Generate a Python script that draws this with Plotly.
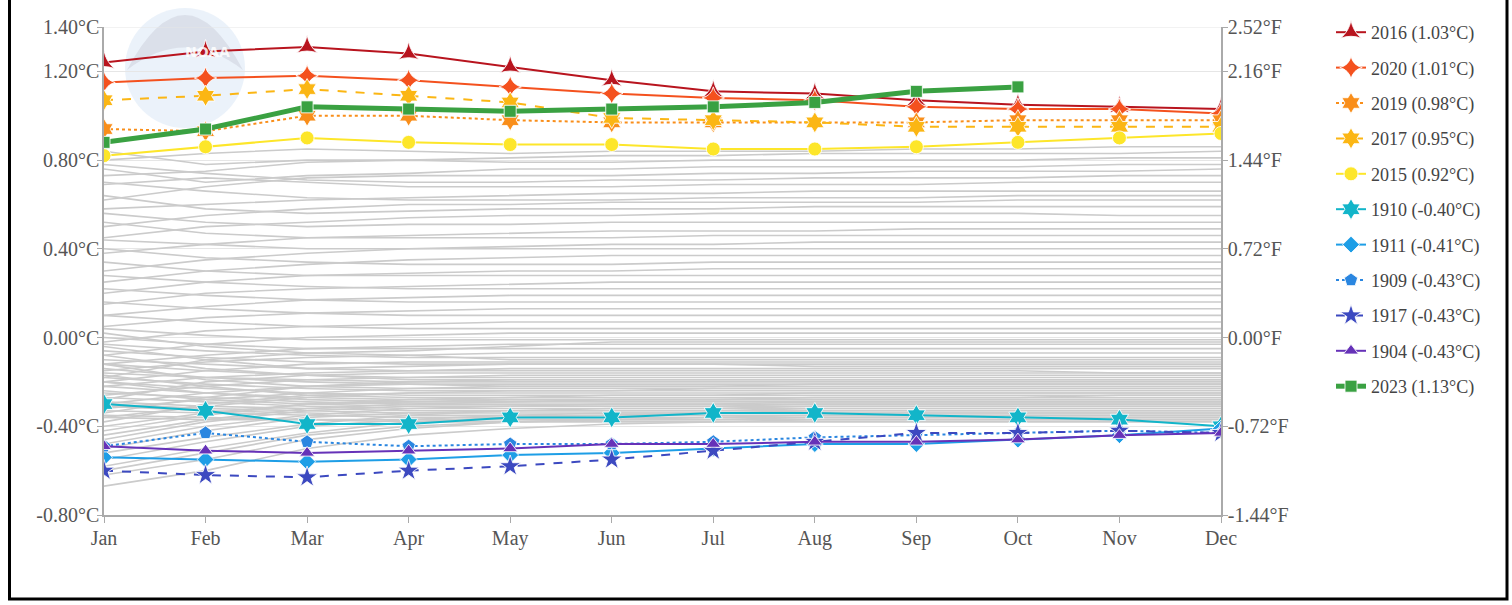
import plotly.graph_objects as go

months = ["Jan", "Feb", "Mar", "Apr", "May", "Jun", "Jul", "Aug", "Sep", "Oct", "Nov", "Dec"]

# Highlighted years: year-to-date global temperature anomaly (°C)
y2016 = [1.24, 1.29, 1.31, 1.28, 1.22, 1.16, 1.11, 1.10, 1.07, 1.05, 1.04, 1.03]
y2020 = [1.15, 1.17, 1.18, 1.16, 1.13, 1.10, 1.08, 1.07, 1.04, 1.03, 1.03, 1.01]
y2019 = [0.94, 0.93, 1.00, 1.00, 0.98, 0.97, 0.97, 0.97, 0.97, 0.98, 0.98, 0.98]
y2017 = [1.07, 1.09, 1.12, 1.09, 1.06, 0.99, 0.98, 0.97, 0.95, 0.95, 0.95, 0.95]
y2015 = [0.82, 0.86, 0.90, 0.88, 0.87, 0.87, 0.85, 0.85, 0.86, 0.88, 0.90, 0.92]
y1910 = [-0.30, -0.33, -0.39, -0.39, -0.36, -0.36, -0.34, -0.34, -0.35, -0.36, -0.37, -0.40]
y1911 = [-0.54, -0.55, -0.56, -0.55, -0.53, -0.52, -0.50, -0.48, -0.48, -0.46, -0.44, -0.41]
y1909 = [-0.49, -0.43, -0.47, -0.49, -0.48, -0.48, -0.47, -0.45, -0.44, -0.43, -0.42, -0.43]
y1917 = [-0.60, -0.62, -0.63, -0.60, -0.58, -0.55, -0.51, -0.47, -0.43, -0.43, -0.42, -0.43]
y1904 = [-0.49, -0.51, -0.52, -0.51, -0.50, -0.48, -0.48, -0.47, -0.47, -0.46, -0.44, -0.43]
y2023 = [0.88, 0.94, 1.04, 1.03, 1.02, 1.03, 1.04, 1.06, 1.11, 1.13, None, None]

legend_years = ["2016", "2020", "2019", "2017", "2015", "1910", "1911", "1909", "1917", "1904", "2023"]
legend_annual = ["1.03", "1.01", "0.98", "0.95", "0.92", "-0.40", "-0.41", "-0.43", "-0.43", "-0.43", "1.13"]

# All other years (grey background lines)
background_years = [
    [0.80, 0.83, 0.85, 0.84, 0.83, 0.84, 0.84, 0.84, 0.85, 0.85, 0.86, 0.86],
    [0.84, 0.78, 0.80, 0.80, 0.81, 0.82, 0.82, 0.83, 0.83, 0.83, 0.83, 0.84],
    [0.73, 0.75, 0.79, 0.80, 0.79, 0.79, 0.80, 0.80, 0.80, 0.80, 0.81, 0.81],
    [0.76, 0.70, 0.73, 0.74, 0.76, 0.76, 0.77, 0.77, 0.77, 0.77, 0.78, 0.78],
    [0.62, 0.68, 0.72, 0.73, 0.73, 0.73, 0.74, 0.74, 0.75, 0.75, 0.75, 0.76],
    [0.78, 0.74, 0.71, 0.70, 0.70, 0.71, 0.71, 0.72, 0.72, 0.72, 0.73, 0.73],
    [0.69, 0.72, 0.70, 0.68, 0.68, 0.68, 0.69, 0.69, 0.69, 0.70, 0.70, 0.70],
    [0.58, 0.60, 0.62, 0.63, 0.64, 0.65, 0.65, 0.66, 0.66, 0.66, 0.66, 0.66],
    [0.70, 0.66, 0.63, 0.62, 0.62, 0.62, 0.63, 0.63, 0.63, 0.64, 0.64, 0.64],
    [0.50, 0.55, 0.58, 0.60, 0.60, 0.61, 0.61, 0.61, 0.61, 0.62, 0.62, 0.62],
    [0.64, 0.58, 0.56, 0.57, 0.58, 0.58, 0.58, 0.59, 0.59, 0.59, 0.59, 0.59],
    [0.45, 0.50, 0.52, 0.54, 0.55, 0.55, 0.56, 0.56, 0.56, 0.56, 0.55, 0.55],
    [0.56, 0.52, 0.50, 0.51, 0.51, 0.52, 0.52, 0.52, 0.52, 0.52, 0.52, 0.52],
    [0.38, 0.42, 0.45, 0.46, 0.47, 0.48, 0.48, 0.48, 0.49, 0.49, 0.49, 0.49],
    [0.52, 0.47, 0.45, 0.45, 0.45, 0.45, 0.46, 0.46, 0.46, 0.46, 0.46, 0.46],
    [0.30, 0.35, 0.38, 0.40, 0.41, 0.42, 0.42, 0.43, 0.43, 0.43, 0.43, 0.43],
    [0.44, 0.42, 0.40, 0.40, 0.40, 0.40, 0.40, 0.40, 0.40, 0.40, 0.40, 0.40],
    [0.25, 0.30, 0.33, 0.35, 0.36, 0.37, 0.37, 0.37, 0.37, 0.37, 0.37, 0.37],
    [0.40, 0.36, 0.34, 0.33, 0.33, 0.33, 0.34, 0.34, 0.34, 0.34, 0.34, 0.34],
    [0.20, 0.25, 0.28, 0.29, 0.30, 0.30, 0.31, 0.31, 0.31, 0.31, 0.31, 0.31],
    [0.34, 0.30, 0.28, 0.28, 0.28, 0.28, 0.28, 0.28, 0.28, 0.28, 0.28, 0.28],
    [0.15, 0.20, 0.22, 0.23, 0.24, 0.25, 0.25, 0.25, 0.25, 0.25, 0.25, 0.25],
    [0.28, 0.25, 0.23, 0.22, 0.22, 0.22, 0.22, 0.22, 0.22, 0.22, 0.22, 0.22],
    [0.10, 0.14, 0.17, 0.18, 0.19, 0.19, 0.19, 0.19, 0.19, 0.19, 0.19, 0.19],
    [0.22, 0.19, 0.17, 0.16, 0.16, 0.16, 0.16, 0.16, 0.16, 0.16, 0.16, 0.16],
    [0.05, 0.09, 0.11, 0.12, 0.13, 0.13, 0.13, 0.13, 0.13, 0.13, 0.13, 0.13],
    [0.16, 0.13, 0.11, 0.10, 0.10, 0.10, 0.10, 0.10, 0.10, 0.10, 0.10, 0.10],
    [-0.02, 0.03, 0.05, 0.06, 0.07, 0.07, 0.07, 0.07, 0.07, 0.07, 0.07, 0.07],
    [0.10, 0.07, 0.05, 0.04, 0.04, 0.04, 0.04, 0.04, 0.04, 0.04, 0.04, 0.04],
    [-0.08, -0.03, 0.00, 0.01, 0.02, 0.02, 0.02, 0.02, 0.02, 0.02, 0.02, 0.02],
    [0.04, 0.01, -0.01, -0.01, -0.01, -0.01, -0.01, -0.01, -0.01, -0.01, -0.01, -0.01],
    [-0.12, -0.08, -0.05, -0.04, -0.03, -0.03, -0.03, -0.03, -0.03, -0.03, -0.03, -0.03],
    [0.00, -0.03, -0.05, -0.05, -0.05, -0.05, -0.05, -0.05, -0.05, -0.05, -0.05, -0.05],
    [-0.15, -0.11, -0.09, -0.08, -0.07, -0.07, -0.07, -0.07, -0.07, -0.07, -0.07, -0.07],
    [-0.03, -0.06, -0.08, -0.09, -0.09, -0.09, -0.09, -0.09, -0.09, -0.09, -0.09, -0.09],
    [-0.20, -0.15, -0.12, -0.11, -0.11, -0.11, -0.11, -0.11, -0.11, -0.11, -0.11, -0.11],
    [-0.06, -0.09, -0.11, -0.12, -0.12, -0.12, -0.12, -0.13, -0.13, -0.13, -0.13, -0.13],
    [-0.22, -0.18, -0.16, -0.15, -0.14, -0.14, -0.14, -0.14, -0.14, -0.14, -0.14, -0.14],
    [-0.10, -0.12, -0.14, -0.15, -0.15, -0.15, -0.15, -0.15, -0.15, -0.15, -0.16, -0.16],
    [-0.26, -0.22, -0.19, -0.18, -0.17, -0.17, -0.17, -0.17, -0.17, -0.17, -0.17, -0.17],
    [-0.12, -0.15, -0.17, -0.18, -0.18, -0.18, -0.18, -0.18, -0.18, -0.18, -0.18, -0.18],
    [-0.30, -0.25, -0.22, -0.20, -0.19, -0.19, -0.19, -0.19, -0.19, -0.19, -0.19, -0.19],
    [-0.16, -0.18, -0.19, -0.20, -0.20, -0.20, -0.20, -0.20, -0.20, -0.20, -0.20, -0.20],
    [-0.32, -0.28, -0.25, -0.23, -0.22, -0.22, -0.22, -0.21, -0.21, -0.21, -0.21, -0.21],
    [-0.14, -0.18, -0.20, -0.21, -0.22, -0.22, -0.22, -0.22, -0.22, -0.22, -0.22, -0.22],
    [-0.36, -0.31, -0.27, -0.25, -0.24, -0.24, -0.23, -0.23, -0.23, -0.23, -0.23, -0.23],
    [-0.18, -0.21, -0.23, -0.24, -0.24, -0.24, -0.24, -0.24, -0.24, -0.24, -0.24, -0.24],
    [-0.40, -0.34, -0.30, -0.28, -0.27, -0.26, -0.26, -0.25, -0.25, -0.25, -0.25, -0.25],
    [-0.20, -0.23, -0.25, -0.26, -0.26, -0.26, -0.26, -0.26, -0.26, -0.26, -0.26, -0.26],
    [-0.44, -0.37, -0.32, -0.30, -0.29, -0.28, -0.28, -0.27, -0.27, -0.27, -0.27, -0.27],
    [-0.22, -0.25, -0.27, -0.28, -0.28, -0.28, -0.28, -0.28, -0.28, -0.28, -0.28, -0.28],
    [-0.48, -0.40, -0.35, -0.32, -0.31, -0.30, -0.30, -0.29, -0.29, -0.29, -0.29, -0.29],
    [-0.25, -0.27, -0.29, -0.30, -0.30, -0.30, -0.30, -0.30, -0.30, -0.30, -0.30, -0.30],
    [-0.52, -0.45, -0.39, -0.35, -0.33, -0.32, -0.32, -0.31, -0.31, -0.31, -0.31, -0.31],
    [-0.27, -0.29, -0.31, -0.32, -0.32, -0.32, -0.32, -0.32, -0.32, -0.32, -0.32, -0.32],
    [-0.58, -0.50, -0.43, -0.38, -0.36, -0.35, -0.34, -0.33, -0.33, -0.33, -0.33, -0.33],
    [-0.30, -0.32, -0.33, -0.34, -0.34, -0.34, -0.34, -0.34, -0.34, -0.34, -0.34, -0.34],
    [-0.62, -0.55, -0.46, -0.41, -0.38, -0.37, -0.36, -0.35, -0.35, -0.35, -0.35, -0.35],
    [-0.33, -0.34, -0.35, -0.36, -0.36, -0.36, -0.36, -0.36, -0.36, -0.36, -0.36, -0.36],
    [-0.67, -0.60, -0.50, -0.44, -0.41, -0.39, -0.38, -0.37, -0.37, -0.37, -0.37, -0.37],
    [-0.35, -0.36, -0.37, -0.38, -0.38, -0.38, -0.38, -0.38, -0.38, -0.38, -0.38, -0.38],
    [0.02, -0.04, -0.07, -0.06, -0.04, -0.02, -0.02, -0.02, -0.02, -0.02, -0.02, -0.02],
    [-0.18, -0.10, -0.07, -0.08, -0.10, -0.10, -0.10, -0.10, -0.10, -0.10, -0.10, -0.10],
    [-0.04, -0.10, -0.14, -0.13, -0.12, -0.12, -0.12, -0.12, -0.12, -0.12, -0.12, -0.12],
    [-0.28, -0.20, -0.17, -0.16, -0.16, -0.16, -0.16, -0.16, -0.16, -0.16, -0.16, -0.16],
    [-0.08, -0.14, -0.17, -0.19, -0.19, -0.19, -0.19, -0.19, -0.19, -0.19, -0.19, -0.19],
    [-0.34, -0.27, -0.22, -0.21, -0.21, -0.21, -0.21, -0.21, -0.21, -0.21, -0.21, -0.21],
    [-0.12, -0.19, -0.22, -0.23, -0.23, -0.23, -0.23, -0.23, -0.23, -0.23, -0.23, -0.23],
    [-0.38, -0.30, -0.26, -0.25, -0.25, -0.25, -0.25, -0.25, -0.25, -0.25, -0.25, -0.25],
    [-0.17, -0.22, -0.26, -0.27, -0.27, -0.27, -0.27, -0.27, -0.27, -0.27, -0.26, -0.26],
    [-0.42, -0.35, -0.30, -0.29, -0.28, -0.28, -0.28, -0.28, -0.28, -0.28, -0.28, -0.28],
    [-0.20, -0.25, -0.28, -0.29, -0.29, -0.29, -0.29, -0.29, -0.29, -0.29, -0.29, -0.29],
    [-0.46, -0.38, -0.33, -0.31, -0.31, -0.31, -0.31, -0.30, -0.30, -0.30, -0.30, -0.30],
    [-0.24, -0.28, -0.30, -0.31, -0.31, -0.31, -0.31, -0.31, -0.31, -0.31, -0.31, -0.31],
    [-0.50, -0.42, -0.36, -0.34, -0.33, -0.33, -0.33, -0.32, -0.32, -0.32, -0.32, -0.32],
    [-0.29, -0.31, -0.32, -0.33, -0.33, -0.33, -0.33, -0.33, -0.33, -0.33, -0.33, -0.33],
    [-0.55, -0.47, -0.40, -0.37, -0.35, -0.34, -0.34, -0.34, -0.34, -0.34, -0.34, -0.34],
    [-0.31, -0.33, -0.34, -0.35, -0.35, -0.35, -0.35, -0.35, -0.35, -0.35, -0.35, -0.35],
    [-0.60, -0.52, -0.44, -0.40, -0.38, -0.37, -0.37, -0.36, -0.36, -0.36, -0.36, -0.36],
    [-0.36, -0.37, -0.37, -0.37, -0.37, -0.37, -0.37, -0.37, -0.37, -0.37, -0.37, -0.37],
]

c_tickvals = [-0.8, -0.4, 0.0, 0.4, 0.8, 1.2, 1.4]
c_ticktext = ["-0.80°C", "-0.40°C", "0.00°C", "0.40°C", "0.80°C", "1.20°C", "1.40°C"]
f_tickvals = [-1.44, -0.72, 0.0, 0.72, 1.44, 2.16, 2.52]
f_ticktext = ["-1.44°F", "-0.72°F", "0.00°F", "0.72°F", "1.44°F", "2.16°F", "2.52°F"]
C_TO_F_ANOMALY = 1.8

series = [y2016, y2020, y2019, y2017, y2015, y1910, y1911, y1909, y1917, y1904, y2023]
colors = ["#b8141e", "#f4511e", "#f98e1a", "#fbb614", "#fde62a", "#12b5c9", "#1e9ee6",
          "#2a86e0", "#3c49c0", "#6632b8", "#3aa142"]
dashes = ["solid", "solid", "dot", "dash", "solid", "solid", "solid", "dot", "dash", "solid", "solid"]
symbols = ["star-triangle-up", "star-diamond", "hexagram", "hexagram", "circle", "hexagram",
           "diamond", "pentagon", "star", "triangle-up", "square"]
sizes = [15, 16, 16, 16, 14, 16, 13, 14, 16, 13, 12]
widths = [2, 2, 2, 2, 2, 2, 2, 2, 2, 2, 5]

SERIF = "Liberation Serif, Times New Roman, serif"
TICK_COLOR = "#555555"

fig = go.Figure()

for vals in background_years:
    fig.add_trace(go.Scatter(
        x=months, y=vals, mode="lines",
        line=dict(color="#cbcbcb", width=1.6),
        showlegend=False, hoverinfo="skip"))

for i, vals in enumerate(series):
    fig.add_trace(go.Scatter(
        x=months, y=vals, mode="lines+markers",
        name=f"{legend_years[i]} ({legend_annual[i]}°C)",
        legendgroup=legend_years[i],
        line=dict(color=colors[i], width=widths[i], dash=dashes[i]),
        marker=dict(symbol=symbols[i], size=sizes[i], color=colors[i],
                    line=dict(color="rgba(255,255,255,0.85)", width=1)),
        connectgaps=False))

# invisible companion trace so the °F axis is drawn
fig.add_trace(go.Scatter(
    x=months, y=[v * C_TO_F_ANOMALY if v is not None else None for v in y2023],
    yaxis="y2", mode="lines", line=dict(width=0), opacity=0,
    showlegend=False, hoverinfo="skip"))

# NOAA watermark logo (decorative)
fig.add_shape(type="circle", xref="paper", yref="paper",
              x0=(125 - 104) / 1117, x1=(245 - 104) / 1117,
              y0=(515 - 128) / 488, y1=(515 - 8) / 488,
              fillcolor="rgba(190,212,238,0.30)", line=dict(width=0), layer="below")
fig.add_shape(type="path", xref="paper", yref="paper",
              path=("M {a},{b} Q {c},{d} {e},{f} Q {g},{h} {a},{b} Z").format(
                  a=(127 - 104) / 1117, b=(515 - 70) / 488,
                  c=(185 - 104) / 1117, d=(515 - (-40)) / 488,
                  e=(243 - 104) / 1117, f=(515 - 70) / 488,
                  g=(185 - 104) / 1117, h=(515 - 25) / 488),
              fillcolor="rgba(195,198,210,0.40)", line=dict(width=0), layer="below")
fig.add_annotation(text="<b>NOAA</b>", xref="paper", yref="paper",
                   x=(183 - 104) / 1117, y=(515 - 42) / 488, showarrow=False,
                   font=dict(family="DejaVu Sans", size=14, color="rgba(255,255,255,0.85)"))

# top gridline at the upper range limit
fig.add_shape(type="line", xref="paper", yref="y", x0=0, x1=1,
              y0=c_tickvals[-1], y1=c_tickvals[-1],
              line=dict(color="#e6e6e6", width=1), layer="below")

# Black frame around the image
fig.add_shape(type="rect", xref="paper", yref="paper",
              x0=(9.5 - 104) / 1117, x1=(1507 - 104) / 1117,
              y0=(515 - 599) / 488, y1=(515 + 20) / 488,
              line=dict(color="black", width=3), fillcolor="rgba(0,0,0,0)")

axis_common = dict(showline=True, linecolor="#aaaaaa", linewidth=1.5,
                   ticks="outside", tickcolor="#aaaaaa", zeroline=False,
                   tickfont=dict(family=SERIF, size=20, color=TICK_COLOR))

fig.update_layout(
    width=1512, height=605, autosize=False,
    margin=dict(l=104, r=291, t=27, b=90),
    paper_bgcolor="white", plot_bgcolor="white",
    font=dict(family=SERIF, color=TICK_COLOR),
    xaxis=dict(type="category", range=[0, 11], showgrid=False, ticklen=6,
               ticklabelstandoff=-2, **axis_common),
    yaxis=dict(range=[-0.8, 1.4], tickvals=c_tickvals, ticktext=c_ticktext,
               showgrid=True, gridcolor="#e6e6e6", gridwidth=1, ticklen=5,
               ticklabelstandoff=-6, **axis_common),
    yaxis2=dict(range=[-1.44, 2.52], tickvals=f_tickvals, ticktext=f_ticktext,
                overlaying="y", side="right", showgrid=False, ticklen=5,
                ticklabelstandoff=-4, **axis_common),
    legend=dict(
        x=(1331 - 104) / 1117, xanchor="left",
        y=(515 - 14) / 488, yanchor="top",
        font=dict(family=SERIF, size=18, color="#444444"),
        tracegroupgap=9, itemwidth=30, maxheight=560,
        bgcolor="rgba(0,0,0,0)"),
    showlegend=True,
)

fig.write_html("out.html",
               config={"displayModeBar": False},
               post_script="document.body.style.margin='0';document.body.style.overflow='hidden';")
